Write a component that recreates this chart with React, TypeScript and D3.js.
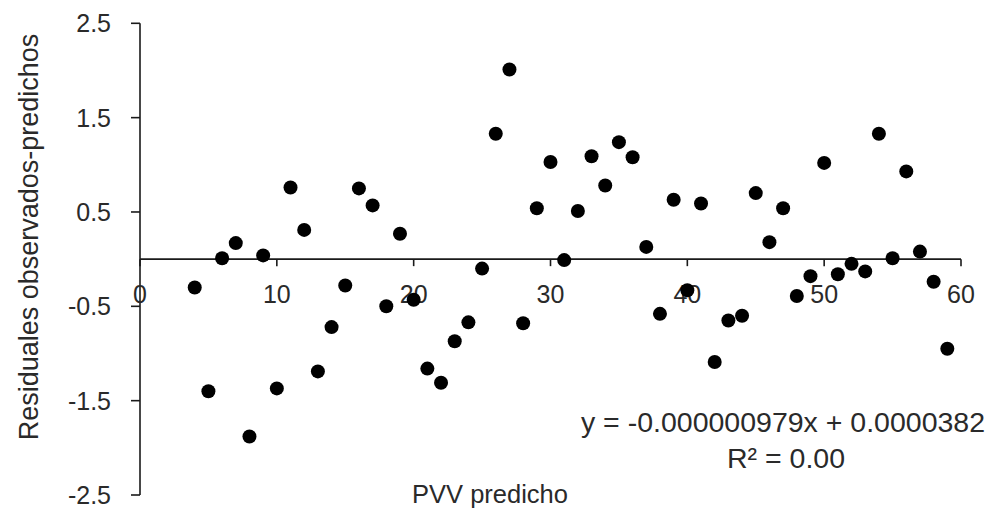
import React from "react";
import * as d3 from "d3";

const xValues = [4,5,6,7,8,9,10,11,12,13,14,15,16,17,18,19,20,21,22,23,24,25,26,27,28,29,30,31,32,33,34,35,36,37,38,39,40,41,42,43,44,45,46,47,48,49,50,51,52,53,54,55,56,57,58,59];
const residuals = [-0.30,-1.40,0.01,0.17,-1.88,0.04,-1.37,0.76,0.31,-1.19,-0.72,-0.28,0.75,0.57,-0.50,0.27,-0.43,-1.16,-1.31,-0.87,-0.67,-0.10,1.33,2.01,-0.68,0.54,1.03,-0.01,0.51,1.09,0.78,1.24,1.08,0.13,-0.58,0.63,-0.33,0.59,-1.09,-0.65,-0.60,0.70,0.18,0.54,-0.39,-0.18,1.02,-0.16,-0.05,-0.13,1.33,0.01,0.93,0.08,-0.24,-0.95];
const xTicks = [0,10,20,30,40,50,60];
const yTicks = [2.5,1.5,0.5,-0.5,-1.5,-2.5];
const xLabel = "PVV predicho";
const yLabel = "Residuales observados-predichos";
const eqLine1 = "y = -0.000000979x + 0.0000382";
const eqLine2 = "R² = 0.00";

export default function App() {
  const W = 1003, H = 514;
  const x = d3.scaleLinear().domain([0, 60]).range([140, 961]);
  const y = d3.scaleLinear().domain([-2.5, 2.5]).range([495, 23.3]);
  const font = "'Liberation Sans', Arial, sans-serif";
  const axisColor = "#1a1a1a";
  const textColor = "#2a2a2a";
  const y0 = y(0);
  return (
    <svg width={W} height={H} style={{ position: "absolute", left: 0, top: 0, background: "#fff" }} fontFamily={font}>
      {/* y axis */}
      <line x1={x(0)} x2={x(0)} y1={y(2.5)} y2={y(-2.5)} stroke={axisColor} strokeWidth={1.6} />
      {yTicks.map((t) => (
        <g key={"yt" + t}>
          <line x1={x(0) - 9} x2={x(0)} y1={y(t)} y2={y(t)} stroke={axisColor} strokeWidth={1.6} />
          <text x={111} y={y(t)} dy="0.36em" textAnchor="end" fontSize={25} fill={textColor}>{t.toFixed(1)}</text>
        </g>
      ))}
      {/* x axis */}
      <line x1={x(0)} x2={x(60)} y1={y0} y2={y0} stroke={axisColor} strokeWidth={1.6} />
      {xTicks.map((t) => (
        <g key={"xt" + t}>
          <line x1={x(t)} x2={x(t)} y1={y0} y2={y0 + 7} stroke={axisColor} strokeWidth={1.6} />
          <text x={x(t)} y={303} textAnchor="middle" fontSize={25} fill={textColor}>{t}</text>
        </g>
      ))}
      {/* points */}
      {xValues.map((v, i) => (
        <circle key={"p" + i} cx={x(v)} cy={y(residuals[i])} r={7} fill="#000" />
      ))}
      {/* labels */}
      <text x={490} y={503} textAnchor="middle" fontSize={25.5} fill={textColor}>{xLabel}</text>
      <text transform={`translate(38,237) rotate(-90)`} textAnchor="middle" fontSize={27} fill={textColor}>{yLabel}</text>
      <text x={783} y={432} textAnchor="middle" fontSize={28.5} fill={textColor}>{eqLine1}</text>
      <text x={786} y={468} textAnchor="middle" fontSize={28.5} fill={textColor}>{eqLine2}</text>
    </svg>
  );
}
